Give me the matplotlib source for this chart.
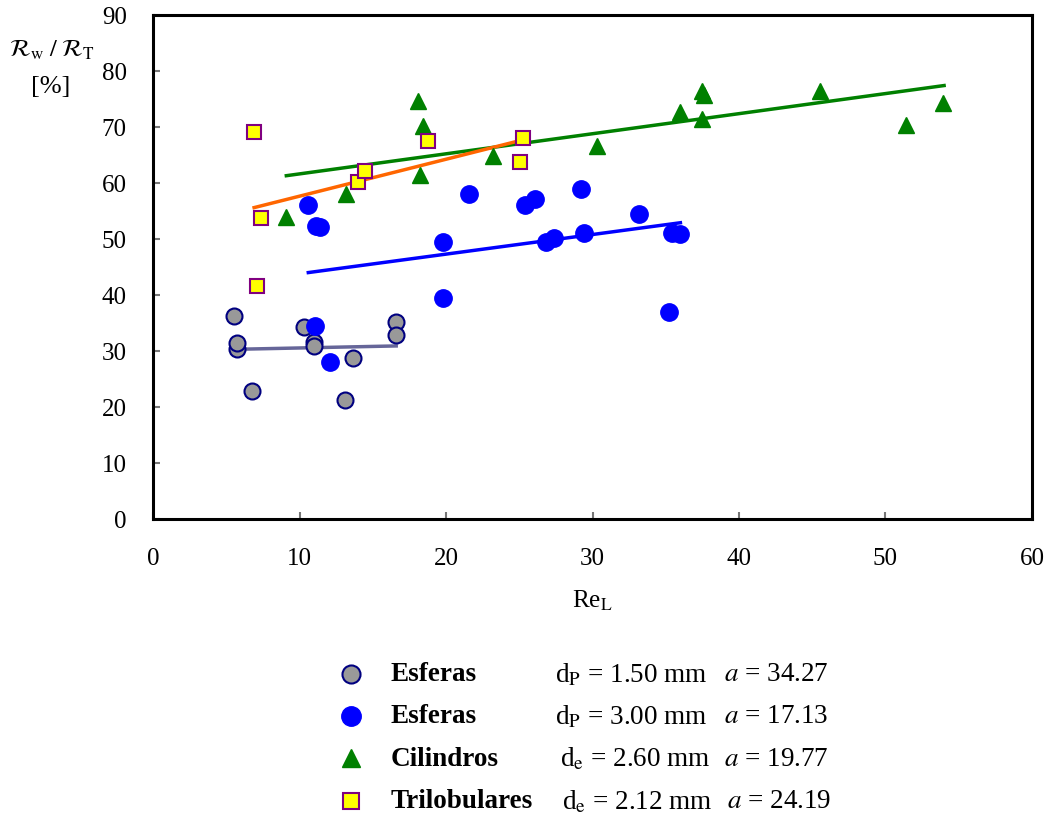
import matplotlib
matplotlib.use("Agg")
import matplotlib.pyplot as plt
import numpy as np

plt.rcParams['font.family'] = ['Liberation Serif', 'DejaVu Serif']
plt.rcParams['mathtext.fontset'] = 'stix'

# Esferas dp = 1.50 mm
re_s15 = [5.5, 5.7, 5.75, 6.75, 10.3, 11.0, 11.0, 13.1, 13.65, 16.6, 16.6]
rw_s15 = [36.2, 30.4, 31.5, 22.9, 34.3, 31.6, 30.8, 21.3, 28.8, 35.2, 32.9]
fit_s15_x = [5.7, 16.6]
fit_s15_y = [30.3, 30.9]

# Esferas dp = 3.00 mm
re_s30 = [10.6, 11.1, 11.4, 11.05, 12.1, 19.8, 19.8, 21.6, 25.4, 26.1,
          26.8, 27.4, 29.2, 29.4, 33.2, 35.2, 35.4, 36.0]
rw_s30 = [56.1, 52.4, 52.1, 34.5, 28.0, 49.4, 39.5, 58.1, 56.1, 57.2,
          49.4, 50.2, 58.9, 51.1, 54.4, 37.0, 51.0, 50.9]
fit_s30_x = [10.6, 36.0]
fit_s30_y = [44.0, 52.9]

# Cilindros de = 2.60 mm
re_cil = [9.1, 13.2, 18.1, 18.2, 18.4, 23.2, 30.3, 36.0, 37.5, 37.6,
          37.5, 45.5, 51.4, 53.9]
rw_cil = [53.9, 58.0, 74.6, 61.4, 70.2, 64.8, 66.6, 72.6, 76.4, 75.8,
          71.4, 76.4, 70.4, 74.3]
fit_cil_x = [9.1, 54.0]
fit_cil_y = [61.3, 77.4]

# Trilobulares de = 2.12 mm
re_tri = [6.9, 7.4, 7.1, 14.0, 14.5, 18.8, 25.05, 25.25]
rw_tri = [69.1, 53.8, 41.6, 60.2, 62.2, 67.5, 63.7, 68.1]
fit_tri_x = [6.9, 25.25]
fit_tri_y = [55.6, 67.7]

legend_names = ['Esferas', 'Esferas', 'Cilindros', 'Trilobulares']
legend_dims = [r'd$_{\rm P}$ = 1.50 mm', r'd$_{\rm P}$ = 3.00 mm',
               r'd$_{\rm e}$ = 2.60 mm', r'd$_{\rm e}$ = 2.12 mm']
legend_a = ['34.27', '17.13', '19.77', '24.19']

fig = plt.figure(figsize=(10.46, 8.2), dpi=100)
ax = fig.add_axes([0.1463, 0.3659, 0.8403, 0.6146])

ax.plot(fit_s15_x, fit_s15_y, color='#666699', lw=2.5, zorder=2)
ax.plot(fit_s30_x, fit_s30_y, color='#0000FF', lw=2.5, zorder=2)
ax.plot(fit_cil_x, fit_cil_y, color='#008000', lw=2.5, zorder=2)
ax.plot(fit_tri_x, fit_tri_y, color='#FF6600', lw=2.5, zorder=2)

h1, = ax.plot(re_s15, rw_s15, 'o', ms=11.5, mfc='#999999', mec='#000080',
              mew=1.5, ls='none', zorder=3)
h2, = ax.plot(re_s30, rw_s30, 'o', ms=12.5, mfc='#0000FF', mec='#0000FF',
              ls='none', zorder=3)
h3, = ax.plot(re_cil, rw_cil, '^', ms=12, mfc='#008000', mec='#008000',
              ls='none', zorder=3)
h4, = ax.plot(re_tri, rw_tri, 's', ms=10.5, mfc='#FFFF00', mec='#800080',
              mew=1.5, ls='none', zorder=3)

ax.set_xlim(0, 60)
ax.set_ylim(0, 90)
ax.set_xticks(np.arange(0, 61, 10))
ax.set_yticks(np.arange(0, 91, 10))
ax.tick_params(direction='in', length=5, width=1.5, color='#777777',
               labelsize=18)
ax.tick_params(axis='y', pad=19)
ax.tick_params(axis='x', pad=20)
for s in ax.spines.values():
    s.set_linewidth(2.2)

ax.set_xlabel(r'Re$_{\rm L}$', fontsize=18, labelpad=14)
fig.text(0.050, 0.939, r'$\mathcal{R}_{\rm w}\ /\ \mathcal{R}_{\rm T}$',
         ha='center', va='center', fontsize=17.5)
fig.text(0.048, 0.894, '[%]', ha='center', va='center', fontsize=19)

# legend block below the axes
handles = [h1, h2, h3, h4]
row_y = [0.177, 0.126, 0.074, 0.022]
dim_x = [0.531, 0.531, 0.535, 0.537]
a_x = [0.692, 0.692, 0.692, 0.695]
for i, h in enumerate(handles):
    y = row_y[i]
    fig.lines.append(matplotlib.lines.Line2D(
        [0.336], [y], transform=fig.transFigure, marker=h.get_marker(),
        ms=h.get_markersize() + 1.5, mfc=h.get_markerfacecolor(),
        mec=h.get_markeredgecolor(), mew=h.get_markeredgewidth(),
        ls='none'))
    fig.text(0.373, y, legend_names[i], fontsize=19.5, fontweight='bold',
             va='center')
    fig.text(dim_x[i], y, legend_dims[i], fontsize=19.5, va='center')
    fig.text(a_x[i], y, r'$a$ = ' + legend_a[i], fontsize=19.5, va='center')

fig.savefig('out.png', dpi=100)
